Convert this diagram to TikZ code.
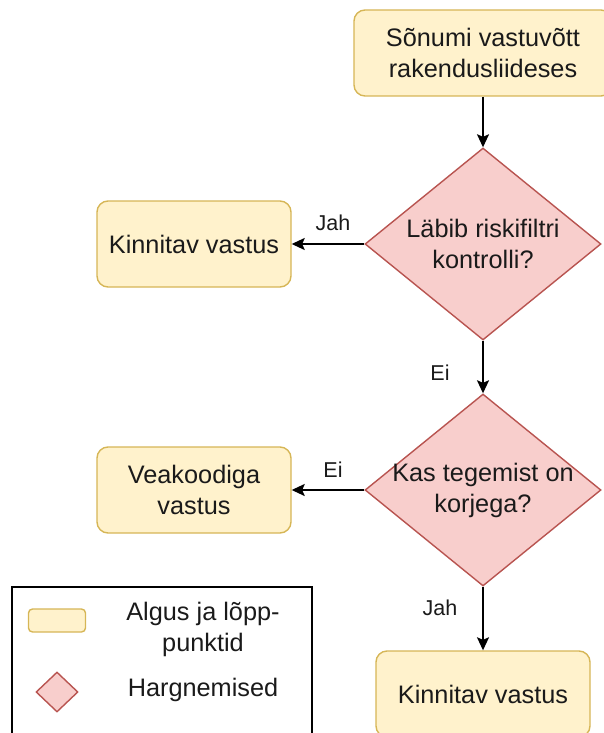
\documentclass[tikz,border=0pt]{standalone}
\usepackage{fontspec}
\setmainfont{Liberation Sans}
\usetikzlibrary{shapes.geometric,arrows.meta}
\definecolor{termfill}{HTML}{FFF2CC}
\definecolor{termdraw}{HTML}{D6B656}
\definecolor{decfill}{HTML}{F8CECC}
\definecolor{decdraw}{HTML}{B85450}
\definecolor{inktext}{HTML}{1A1A1A}
\begin{document}
\begin{tikzpicture}[x=1pt,y=-1pt,
  maintext/.style={font=\fontsize{25.3}{31}\selectfont,text=inktext,align=center},
  edgelabel/.style={font=\fontsize{21.5}{25}\selectfont,text=inktext},
  terminal/.style={draw=termdraw,fill=termfill,rounded corners=11pt,line width=1.4pt,
    maintext,inner sep=0pt},
  decision/.style={diamond,draw=decdraw,fill=decfill,line width=1.4pt,inner sep=0pt},
  flow/.style={line width=1.7pt,-{Stealth[length=13pt,width=12pt,inset=2.5pt]}}]
\useasboundingbox (0,0) rectangle (603,733);

% terminal boxes
\node[terminal,minimum width=258pt,minimum height=86pt] (start) at (483,53)
  {Sõnumi vastuvõtt\\rakendusliideses};
\node[terminal,minimum width=194pt,minimum height=86pt] (okA) at (194,244)
  {Kinnitav vastus};
\node[terminal,minimum width=194pt,minimum height=86pt] (err) at (194,490)
  {Veakoodiga\\vastus};
\node[terminal,minimum width=214pt,minimum height=86pt] (okB) at (483,694)
  {Kinnitav vastus};

% decisions (text set on top so it may overrun the outline)
\node[decision,minimum width=236pt,minimum height=192pt] (risk) at (483,244) {};
\node[maintext] (risktext) at (483,244) {Läbib riskifiltri\\kontrolli?};
\node[decision,minimum width=236pt,minimum height=192pt] (korje) at (483,490) {};
\node[maintext] (korjetext) at (483,490) {Kas tegemist on\\korjega?};

% connectors
\draw[flow] (start.south) -- (risk.north);
\draw[flow] (risk.west) -- (okA.east);
\draw[flow] (risk.south) -- (korje.north);
\draw[flow] (korje.west) -- (err.east);
\draw[flow] (korje.south) -- (okB.north);

% connector labels
\node[edgelabel] (l1) at (333,223) {Jah};
\node[edgelabel] (l2) at (440,373) {Ei};
\node[edgelabel] (l3) at (333,470) {Ei};
\node[edgelabel] (l4) at (440,608) {Jah};

% legend
\draw[line width=1.4pt,black] (12,587) rectangle (312,745);
\node[draw=termdraw,fill=termfill,rounded corners=4pt,line width=1.4pt,
  minimum width=57pt,minimum height=23pt,inner sep=0pt] (legterm) at (57,620.5) {};
\node[maintext] (legtermtext) at (203,629) {Algus ja lõpp-\\punktid};
\node[decision,minimum width=42pt,minimum height=40pt] (legdec) at (57,692) {};
\node[maintext] (legdectext) at (203,690) {Hargnemised};
\end{tikzpicture}
\end{document}
